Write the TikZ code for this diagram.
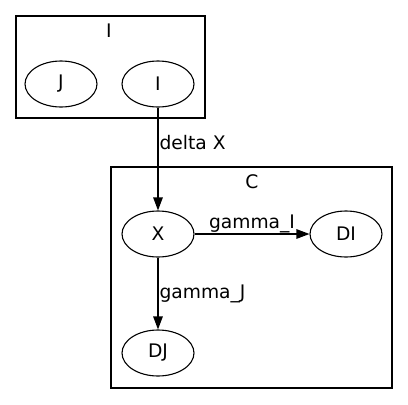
\documentclass[tikz,border=0pt]{standalone}
\usepackage{fontspec}
\setmainfont{DejaVu Sans}
\usetikzlibrary{shapes.geometric,arrows.meta}

\begin{document}
\begin{tikzpicture}[x=1pt, y=-1pt, >={Triangle[length=13pt,width=9.5pt]},
        font=\fontsize{18.67}{22}\selectfont, line width=1.1pt,
        state/.style={ellipse, draw, minimum width=72pt, minimum height=46pt, inner sep=0pt},
        cluster/.style={draw, line width=1.3pt},
        elabel/.style={inner sep=1pt}]
        \useasboundingbox (0,0) rectangle (408,405);

        % cluster I
        \draw[cluster] (16,16) rectangle (205,118);
        \node (labI) at (109,31) {I};
        \node[state] (J) at (61,84)  {J};
        \node[state] (I) at (158,84) {I};

        % cluster C
        \draw[cluster] (111,167) rectangle (392,388);
        \node (labC) at (252,182) {C};
        \node[state] (X)  at (158,234) {X};
        \node[state] (DI) at (346,234) {DI};
        \node[state] (DJ) at (158,353) {DJ};

        \draw[->] (I) -- node[elabel, right, pos=0.34] {delta X} (X);
        \draw[->] (X) -- node[elabel, above] {gamma\_I} (DI);
        \draw[->] (X) -- node[elabel, right] {gamma\_J} (DJ);
    \end{tikzpicture}
\end{document}
